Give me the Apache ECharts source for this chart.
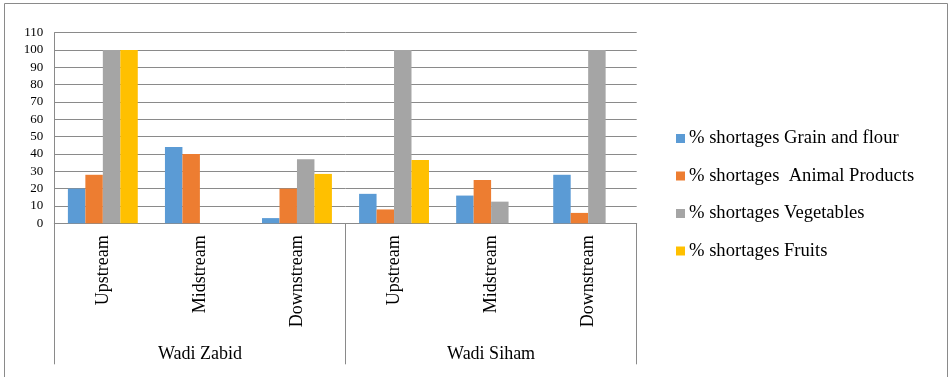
<!DOCTYPE html>
<html>
<head>
<meta charset="utf-8">
<script src="https://cdn.jsdelivr.net/npm/echarts@6/dist/echarts.min.js"></script>
<style>
html,body{margin:0;padding:0;background:#fff;}
#chart{width:951px;height:377px;}
</style>
</head>
<body>
<div id="chart"></div>
<script>
var categories = ['Upstream', 'Midstream', 'Downstream', 'Upstream', 'Midstream', 'Downstream'];
var groups = ['Wadi Zabid', 'Wadi Siham'];
var seriesNames = ['% shortages Grain and flour', '% shortages  Animal Products', '% shortages Vegetables', '% shortages Fruits'];
var grainFlour = [20, 44, 3, 17, 16, 28];
var animalProducts = [28, 40, 20, 8, 25, 6];
var vegetables = [100, 0, 37, 100, 12.5, 100];
var fruits = [100, 0, 28.5, 36.5, 0, 0];
var colors = ['#5B9BD5', '#ED7D31', '#A5A5A5', '#FFC000'];

var font = '"Liberation Serif", "Times New Roman", serif';
var lineCol = '#8a8a8a';
var chart = echarts.init(document.getElementById('chart'));
var dataSets = [grainFlour, animalProducts, vegetables, fruits];
chart.setOption({
  animation: false,
  color: colors,
  textStyle: { fontFamily: font },
  graphic: [{
    type: 'rect',
    shape: { x: 4.5, y: 3.5, width: 943, height: 390 },
    style: { fill: 'none', stroke: lineCol, lineWidth: 1 },
    silent: true
  }],
  legend: {
    orient: 'vertical',
    left: 676,
    top: 129,
    padding: 0,
    itemWidth: 9,
    itemHeight: 9,
    itemGap: 18.5,
    icon: 'rect',
    textStyle: { fontFamily: font, fontSize: 18.6, color: '#000', lineHeight: 18, padding: [0, 0, 0, -1] },
    data: seriesNames
  },
  grid: { left: 54.3, right: 314.3, top: 32.7, bottom: 153.7, containLabel: false },
  xAxis: [{
    type: 'category',
    data: categories,
    position: 'bottom',
    axisLine: { show: true, lineStyle: { color: lineCol, width: 1 } },
    axisTick: { show: false },
    axisLabel: { rotate: 90, margin: 12, fontFamily: font, fontSize: 18, color: '#000', interval: 0 }
  }, {
    type: 'category',
    data: groups,
    position: 'bottom',
    axisLine: { show: false },
    axisTick: { show: true, length: 141, lineStyle: { color: lineCol, width: 1 } },
    axisLabel: { margin: 122, fontFamily: font, fontSize: 18, color: '#000', interval: 0 }
  }],
  yAxis: {
    type: 'value',
    min: 0,
    max: 110,
    interval: 10,
    axisLine: { show: true, lineStyle: { color: lineCol, width: 1 } },
    axisTick: { show: false },
    axisLabel: { margin: 11, fontFamily: font, fontSize: 13, color: '#000' },
    splitLine: { show: true, lineStyle: { color: lineCol, width: 1 } }
  },
  series: seriesNames.map(function (n, i) {
    return {
      name: n,
      type: 'bar',
      xAxisIndex: 0,
      barGap: '0%',
      barCategoryGap: '28%',
      data: dataSets[i],
      itemStyle: { color: colors[i] }
    };
  })
});
</script>
</body>
</html>
